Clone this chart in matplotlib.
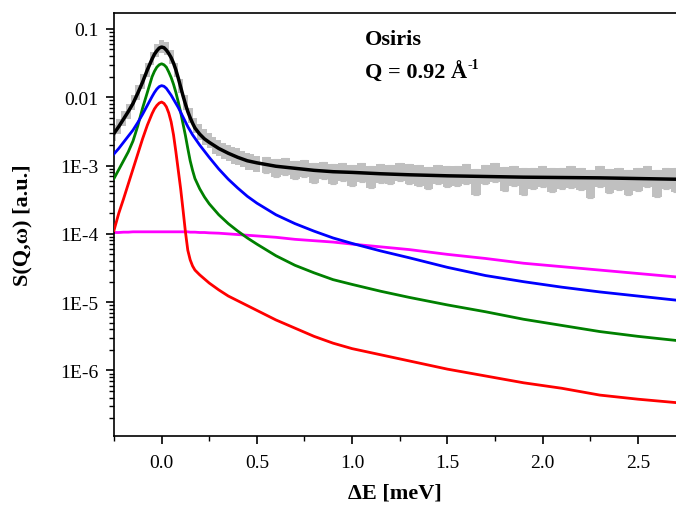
import numpy as np
import matplotlib
matplotlib.use('Agg')
import matplotlib.pyplot as plt

plt.rcParams['font.family'] = ['Liberation Serif', 'DejaVu Serif']

# fit components (stored as log10 of S(Q,w))
x_fit = [-0.25, -0.225, -0.2, -0.175, -0.15, -0.125, -0.1, -0.075, -0.05, -0.0375,
         -0.025, -0.0125, 0.0, 0.0125, 0.025, 0.0375, 0.05, 0.0625, 0.075, 0.0875,
         0.1, 0.1125, 0.125, 0.1375, 0.15, 0.1625, 0.175, 0.2, 0.225, 0.25,
         0.3, 0.35, 0.4, 0.45, 0.5, 0.6, 0.7, 0.8, 0.9, 1.0,
         1.15, 1.3, 1.5, 1.7, 1.9, 2.1, 2.3, 2.5, 2.7]
total_log = [-2.53, -2.43, -2.32, -2.21, -2.09, -1.94, -1.78, -1.60, -1.44, -1.37,
             -1.32, -1.28, -1.265, -1.275, -1.31, -1.36, -1.42, -1.50, -1.60, -1.72,
             -1.85, -1.98, -2.10, -2.21, -2.30, -2.38, -2.45, -2.54, -2.61, -2.66,
             -2.75, -2.82, -2.88, -2.93, -2.96, -3.01, -3.04, -3.07, -3.09, -3.10,
             -3.12, -3.135, -3.15, -3.16, -3.17, -3.175, -3.18, -3.19, -3.20]
green_log = [-3.19, -3.06, -2.93, -2.80, -2.64, -2.42, -2.16, -1.93, -1.70, -1.62,
             -1.56, -1.525, -1.51, -1.525, -1.56, -1.63, -1.71, -1.81, -1.93, -2.07,
             -2.22, -2.39, -2.56, -2.75, -2.93, -3.07, -3.19, -3.34, -3.46, -3.56,
             -3.72, -3.85, -3.96, -4.06, -4.15, -4.32, -4.46, -4.57, -4.67, -4.74,
             -4.84, -4.93, -5.04, -5.14, -5.25, -5.34, -5.43, -5.50, -5.56]
blue_log = [-2.83, -2.75, -2.66, -2.57, -2.48, -2.37, -2.25, -2.12, -1.99, -1.93,
            -1.88, -1.845, -1.83, -1.84, -1.87, -1.92, -1.97, -2.03, -2.09, -2.15,
            -2.22, -2.29, -2.36, -2.43, -2.49, -2.55, -2.60, -2.70, -2.79, -2.88,
            -3.05, -3.20, -3.33, -3.45, -3.55, -3.72, -3.85, -3.96, -4.06, -4.14,
            -4.25, -4.35, -4.49, -4.61, -4.70, -4.78, -4.85, -4.91, -4.97]
red_log = [-3.95, -3.70, -3.49, -3.27, -3.05, -2.83, -2.61, -2.41, -2.24, -2.17,
           -2.12, -2.085, -2.07, -2.09, -2.14, -2.23, -2.36, -2.55, -2.80, -3.07,
           -3.34, -3.65, -3.97, -4.24, -4.38, -4.47, -4.53, -4.60, -4.66, -4.72,
           -4.82, -4.91, -4.98, -5.05, -5.12, -5.26, -5.38, -5.50, -5.60, -5.68,
           -5.77, -5.86, -5.98, -6.08, -6.18, -6.26, -6.36, -6.42, -6.47]
magenta_log = [-3.98, -3.98, -3.975, -3.975, -3.97, -3.97, -3.97, -3.97, -3.97, -3.97,
               -3.97, -3.97, -3.97, -3.97, -3.97, -3.97, -3.97, -3.97, -3.97, -3.97,
               -3.97, -3.97, -3.97, -3.97, -3.975, -3.975, -3.975, -3.98, -3.98, -3.985,
               -3.99, -4.00, -4.01, -4.02, -4.03, -4.05, -4.08, -4.10, -4.12, -4.15,
               -4.19, -4.23, -4.30, -4.36, -4.43, -4.48, -4.53, -4.58, -4.63]

# measured points with error bars
x_data = [-0.25, -0.225, -0.2, -0.175, -0.15, -0.125, -0.1, -0.075, -0.05, -0.025,
          0.0, 0.025, 0.05, 0.075, 0.1, 0.125, 0.15, 0.175, 0.2, 0.225,
          0.25, 0.275, 0.3, 0.325, 0.35, 0.375, 0.4, 0.425, 0.45, 0.475, 0.5,
          0.55, 0.6, 0.65, 0.7, 0.75, 0.8, 0.85, 0.9, 0.95, 1.0,
          1.05, 1.1, 1.15, 1.2, 1.25, 1.3, 1.35, 1.4, 1.45, 1.5,
          1.55, 1.6, 1.65, 1.7, 1.75, 1.8, 1.85, 1.9, 1.95, 2.0,
          2.05, 2.1, 2.15, 2.2, 2.25, 2.3, 2.35, 2.4, 2.45, 2.5,
          2.55, 2.6, 2.65, 2.7]
y_data = [3.1e-3, 3.8e-3, 5.0e-3, 6.4e-3, 8.6e-3, 1.2e-2, 1.75e-2, 2.6e-2, 3.8e-2, 5.0e-2,
          5.7e-2, 5.3e-2, 4.0e-2, 2.6e-2, 1.5e-2, 8.6e-3, 5.6e-3, 4.0e-3, 3.2e-3, 2.7e-3,
          2.4e-3, 2.05e-3, 1.9e-3, 1.7e-3, 1.6e-3, 1.45e-3, 1.4e-3, 1.3e-3, 1.2e-3, 1.18e-3, 1.1e-3,
          1.05e-3, 9.6e-4, 1.0e-3, 9.0e-4, 9.3e-4, 8.2e-4, 8.8e-4, 8.0e-4, 8.5e-4, 7.6e-4,
          8.3e-4, 7.3e-4, 8.0e-4, 7.8e-4, 8.4e-4, 7.9e-4, 7.6e-4, 7.0e-4, 7.7e-4, 7.3e-4,
          7.5e-4, 7.9e-4, 6.3e-4, 7.8e-4, 8.3e-4, 6.8e-4, 7.4e-4, 6.4e-4, 6.9e-4, 7.3e-4,
          6.6e-4, 6.9e-4, 7.2e-4, 6.8e-4, 5.9e-4, 7.4e-4, 6.4e-4, 6.8e-4, 6.2e-4, 6.7e-4,
          7.3e-4, 6.1e-4, 6.9e-4, 6.6e-4]
y_err = [8.0e-4, 9.5e-4, 1.25e-3, 1.6e-3, 2.1e-3, 2.9e-3, 4.2e-3, 6.0e-3, 8.5e-3, 1.1e-2,
         1.2e-2, 1.15e-2, 9.0e-3, 6.0e-3, 3.6e-3, 2.1e-3, 1.4e-3, 1.0e-3, 8.0e-4, 7.0e-4,
         6.2e-4, 5.5e-4, 5.0e-4, 4.6e-4, 4.3e-4, 4.0e-4, 3.8e-4, 3.5e-4, 3.3e-4, 3.2e-4, 3.0e-4,
         2.8e-4, 2.7e-4, 2.7e-4, 2.6e-4, 2.6e-4, 2.6e-4, 2.5e-4, 2.6e-4, 2.5e-4, 2.5e-4,
         2.5e-4, 2.6e-4, 2.4e-4, 2.5e-4, 2.4e-4, 2.5e-4, 2.6e-4, 2.5e-4, 2.4e-4, 2.5e-4,
         2.4e-4, 2.5e-4, 2.6e-4, 2.4e-4, 2.5e-4, 2.6e-4, 2.4e-4, 2.7e-4, 2.4e-4, 2.5e-4,
         2.5e-4, 2.4e-4, 2.5e-4, 2.4e-4, 2.6e-4, 2.5e-4, 2.5e-4, 2.4e-4, 2.5e-4, 2.4e-4,
         2.5e-4, 2.6e-4, 2.4e-4, 2.5e-4]

x_data = np.array(x_data)
y_data = np.array(y_data)
y_err = np.array(y_err)
widths = np.gradient(x_data)
tail = x_data > 0.52

fig = plt.figure(figsize=(6.76, 5.06), dpi=100)
ax = fig.add_axes([0.1686, 0.1364, 0.8314, 0.8359])

grey = '#c0c0c0'
ax.bar(x_data, 2 * y_err, bottom=y_data - y_err, width=widths, color=grey,
       edgecolor='none', zorder=1)
ax.errorbar(x_data[tail], y_data[tail], yerr=y_err[tail], fmt='none', ecolor=grey,
            elinewidth=0.8, capsize=2.5, capthick=0.8, zorder=1)

curves = [(magenta_log, '#ff00ff', 2.0, 2),
          (red_log, '#ff0000', 2.0, 3),
          (green_log, '#008000', 2.0, 3),
          (blue_log, '#0000ff', 2.0, 3),
          (total_log, 'black', 2.5, 4)]
for vals, col, lw, z in curves:
    ax.plot(x_fit, 10 ** np.array(vals), color=col, lw=lw, zorder=z)

ax.set_yscale('log')
ax.set_xlim(-0.25, 2.7)
ax.set_ylim(1.1e-7, 0.171)
ax.set_xticks([0.0, 0.5, 1.0, 1.5, 2.0, 2.5])
ax.set_xticklabels(['0.0', '0.5', '1.0', '1.5', '2.0', '2.5'])
ax.set_xticks(np.arange(-0.25, 2.71, 0.25), minor=True)
ax.set_yticks([1e-6, 1e-5, 1e-4, 1e-3, 1e-2, 1e-1])
ax.set_yticklabels(['1E-6', '1E-5', '1E-4', '1E-3', '0.01', '0.1'])
ax.tick_params(which='major', direction='out', length=6, width=1.2, labelsize=14, pad=5)
ax.tick_params(which='minor', direction='out', length=3.5, width=1.0)
ax.tick_params(axis='x', which='major', pad=7)
ax.tick_params(top=False, right=False)
ax.spines['right'].set_visible(False)
for s in ['left', 'bottom', 'top']:
    ax.spines[s].set_linewidth(1.2)

ax.set_xlabel('ΔE [meV]', fontsize=16, fontweight='bold')
ax.set_ylabel('S(Q,ω) [a.u.]', fontsize=16, fontweight='bold')
ax.xaxis.set_label_coords(0.5, -0.111)
ax.yaxis.set_label_coords(-0.145, 0.5)

ax.text(0.4466, 0.9385, 'Osiris', transform=ax.transAxes, fontsize=16, fontweight='bold',
        va='center', ha='left')
q_txt = ax.text(0.4466, 0.8605, 'Q = 0.92 Å', transform=ax.transAxes, fontsize=16,
                fontweight='bold', va='center', ha='left')
ax.annotate('-1', xy=(1.0, 0.55), xycoords=q_txt, fontsize=10, fontweight='bold',
            va='bottom', ha='left')

fig.savefig('out.png', dpi=100)
